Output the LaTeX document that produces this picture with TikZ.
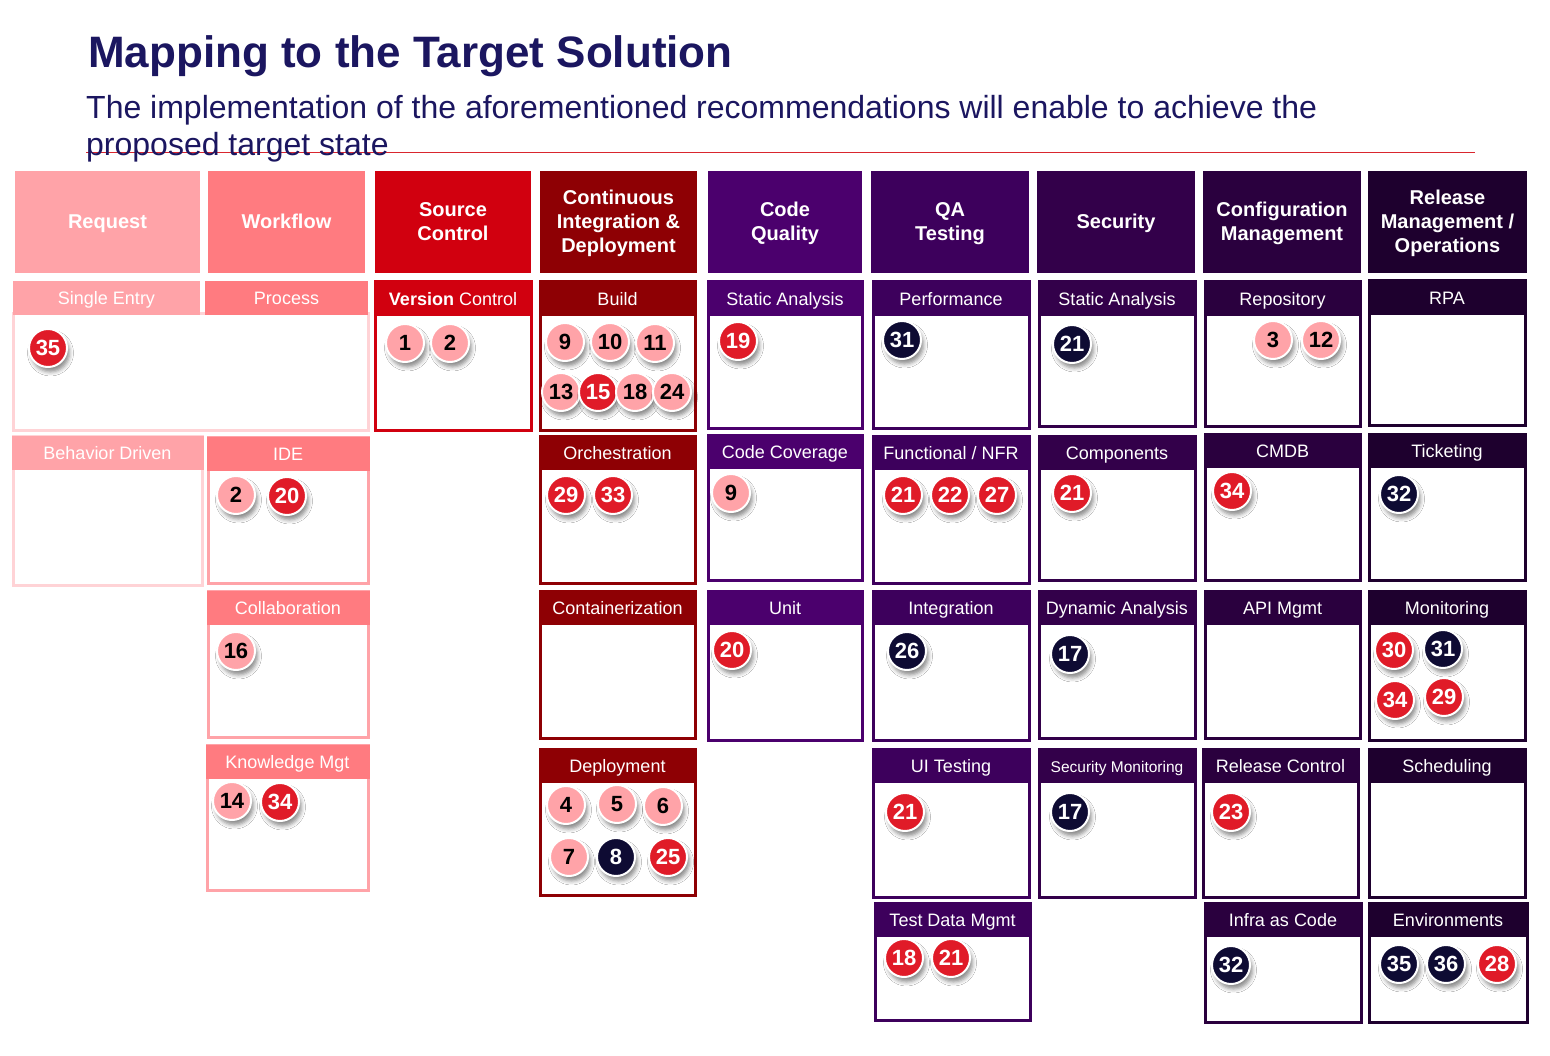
\documentclass[tikz,border=0pt]{standalone}
\usepackage{fontspec}
\usepackage{graphicx}
\setmainfont{Liberation Sans}
\usetikzlibrary{shadows,shadows.blur}

\definecolor{navy}{HTML}{1B1660}
\definecolor{rule}{HTML}{D9262E}
\definecolor{pk}{HTML}{FFA3A8}
\definecolor{rd}{HTML}{E01B28}
\definecolor{dk}{HTML}{0E0B33}
\definecolor{req}{HTML}{FFA3A8}
\definecolor{reqL}{HTML}{FFD3D6}
\definecolor{wf}{HTML}{FF7B80}
\definecolor{wfL}{HTML}{FFA3A8}
\definecolor{sc}{HTML}{D1000F}
\definecolor{ci}{HTML}{8E0004}
\definecolor{cq}{HTML}{4B006D}
\definecolor{qa}{HTML}{3D005C}
\definecolor{sec}{HTML}{33004A}
\definecolor{cfg}{HTML}{2A003E}
\definecolor{rel}{HTML}{1E002E}

\tikzset{
  head/.style={rectangle, inner sep=0pt, outer sep=0pt, text=white, align=center,
    font=\fontsize{20}{24}\selectfont\bfseries, minimum height=102pt},
  body/.style={rectangle, fill=white, line width=3pt, inner sep=0pt, outer sep=0pt},
  band/.style={rectangle, inner sep=0pt, outer sep=0pt, minimum height=34pt, text=white,
    text height=14pt, text depth=1pt, font=\fontsize{18}{20}\selectfont},
  badge/.style={circle, inner sep=0pt, minimum size=38pt, draw=white, line width=2pt,
    font=\fontsize{22}{22}\selectfont\bfseries,
    blur shadow={shadow xshift=2.5pt, shadow yshift=-5pt, shadow blur radius=4pt, shadow opacity=45}},
  bpk/.style={badge, fill=pk, text=black},
  brd/.style={badge, fill=rd, text=white},
  bdk/.style={badge, fill=dk, text=white},
}

% category column header: name, x1, x2, colour, text
\newcommand\colhead[5]{%
  \pgfmathsetmacro\hw{#3-#2}%
  \node[head, fill=#4, minimum width=\hw pt] (#1) at ({(#2+#3)/2},222) {};%
  \node[inner sep=0pt, text=white, align=center, font=\fontsize{20}{24}\selectfont\bfseries]
    (#1-x) at ({(#2+#3)/2},224) {\strut #5\strut};%
}
% sub-panel: name, x1, y1, x2, y2, band colour, border colour, label
\newcommand\panel[8]{%
  \pgfmathsetmacro\pw{#4-#2}%
  \pgfmathsetmacro\ph{#5-#3}%
  \pgfmathsetmacro\bw{#4-#2+3}%
  \node[body, draw=#7, minimum width=\pw pt, minimum height=\ph pt] (#1) at ({(#2+#4)/2},{(#3+#5)/2}) {};%
  \node[band, fill=#6, minimum width=\bw pt] (#1-t) at ({(#2+#4)/2},{#3+17}) {#8};%
}

\begin{document}
\begin{tikzpicture}[x=1pt,y=-1pt]
\useasboundingbox (0,0) rectangle (1550,1056);
\fill[white] (0,0) rectangle (1550,1056);

% title block
\coordinate (ruleL) at (86,153);
\coordinate (ruleR) at (1475,153);
\draw[rule, line width=1pt] (ruleL) -- (ruleR);
\node[anchor=base west, inner sep=0pt, text=navy, font=\fontsize{44}{50}\selectfont\bfseries] (title) at (88,68) {Mapping to the Target Solution};
\node[anchor=base west, inner sep=0pt, text=navy, font=\fontsize{32}{37}\selectfont] (sub1) at (86,119) {The implementation of the aforementioned recommendations will enable to achieve the};
\node[anchor=base west, inner sep=0pt, text=navy, font=\fontsize{32}{37}\selectfont] (sub2) at (86,156) {proposed target state};

% column headers
\colhead{h-req}{15}{200}{req}{Request}
\colhead{h-wf}{208}{365}{wf}{Workflow}
\colhead{h-sc}{375}{531}{sc}{Source\\Control}
\colhead{h-ci}{540}{697}{ci}{Continuous\\Integration \&\\Deployment}
\colhead{h-cq}{708}{862}{cq}{Code\\Quality}
\colhead{h-qa}{871}{1029}{qa}{QA\\Testing}
\colhead{h-sec}{1037}{1195}{sec}{Security}
\colhead{h-cfg}{1203}{1361}{cfg}{Configuration\\Management}
\colhead{h-rel}{1368}{1527}{rel}{Release\\Management /\\Operations}

% shared Single Entry / Process panel
\node[body, draw=reqL, minimum width=355pt, minimum height=116pt] (sep) at (190.5,372) {};
\node[band, fill=req, minimum width=187pt] (se-t) at (106.5,298) {Single Entry};
\node[band, fill=wf, minimum width=163pt] (pr-t) at (286.5,298) {Process};

% row 1
\panel{vc}{375}{282}{531}{430}{sc}{sc}{\textbf{Version} Control}
\panel{build}{540}{282}{695}{430}{ci}{ci}{Build}
\panel{sa1}{708}{282}{862}{428}{cq}{cq}{Static Analysis}
\panel{perf}{873}{282}{1029}{428}{qa}{qa}{Performance}
\panel{sa2}{1039}{282}{1195}{426}{sec}{sec}{Static Analysis}
\panel{repo}{1205}{282}{1360}{426}{cfg}{cfg}{Repository}
\panel{rpa}{1369}{281}{1525}{425}{rel}{rel}{RPA}

% row 2
\panel{bdd}{13}{436}{202}{585}{req}{reqL}{Behavior Driven}
\panel{ide}{208}{437}{368}{583}{wf}{wfL}{IDE}
\panel{orch}{540}{436}{695}{583}{ci}{ci}{Orchestration}
\panel{cc}{708}{435}{862}{580}{cq}{cq}{Code Coverage}
\panel{func}{873}{436}{1029}{583}{qa}{qa}{Functional / NFR}
\panel{comp}{1039}{436}{1195}{580}{sec}{sec}{Components}
\panel{cmdb}{1205}{434}{1360}{580}{cfg}{cfg}{CMDB}
\panel{tick}{1369}{434}{1525}{580}{rel}{rel}{Ticketing}

% row 3
\panel{collab}{208}{591}{368}{737}{wf}{wfL}{Collaboration}
\panel{cont}{540}{591}{695}{738}{ci}{ci}{Containerization}
\panel{unit}{708}{591}{862}{740}{cq}{cq}{Unit}
\panel{integ}{873}{591}{1029}{740}{qa}{qa}{Integration}
\panel{dyn}{1039}{591}{1195}{738}{sec}{sec}{Dynamic Analysis}
\panel{api}{1205}{591}{1360}{738}{cfg}{cfg}{API Mgmt}
\panel{mon}{1369}{591}{1525}{740}{rel}{rel}{Monitoring}

% row 4
\panel{know}{207}{745}{368}{890}{wf}{wfL}{Knowledge Mgt}
\panel{depl}{540}{749}{695}{895}{ci}{ci}{Deployment}
\panel{ui}{873}{749}{1029}{897}{qa}{qa}{UI Testing}
\panel{secmon}{1039}{749}{1195}{897}{sec}{sec}{\fontsize{15.5}{18}\selectfont Security Monitoring}
\panel{relctl}{1203}{749}{1358}{897}{cfg}{cfg}{Release Control}
\panel{sched}{1369}{749}{1525}{897}{rel}{rel}{Scheduling}

% row 5
\panel{tdm}{875}{903}{1030}{1020}{qa}{qa}{Test Data Mgmt}
\panel{iac}{1205}{903}{1361}{1022}{cfg}{cfg}{Infra as Code}
\panel{env}{1369}{903}{1527}{1022}{rel}{rel}{Environments}

% recommendation badges
\node[brd] (b-sep-35) at (48,348) {35};
\node[bpk] (b-vc-1) at (405,343) {1};
\node[bpk] (b-vc-2) at (450,343) {2};

\node[bpk] (b-build-9) at (565,342) {9};
\node[bpk] (b-build-10) at (610,342) {10};
\node[bpk] (b-build-11) at (655,343) {11};
\node[bpk] (b-build-13) at (561,392) {13};
\node[brd] (b-build-15) at (598,392) {15};
\node[bpk] (b-build-18) at (635,392) {18};
\node[bpk] (b-build-24) at (672,392) {24};

\node[brd] (b-sa1-19) at (738,341) {19};
\node[bdk] (b-perf-31) at (902,340) {31};
\node[bdk] (b-sa2-21) at (1072,344) {21};
\node[bpk] (b-repo-3) at (1273,340) {3};
\node[bpk] (b-repo-12) at (1321,340) {12};

\node[bpk] (b-ide-2) at (236,495) {2};
\node[brd] (b-ide-20) at (287,496) {20};
\node[brd] (b-orch-29) at (566,495) {29};
\node[brd] (b-orch-33) at (613,495) {33};
\node[bpk] (b-cc-9) at (731,493) {9};
\node[brd] (b-func-21) at (903,495) {21};
\node[brd] (b-func-22) at (950,495) {22};
\node[brd] (b-func-27) at (997,495) {27};
\node[brd] (b-comp-21) at (1072,493) {21};
\node[brd] (b-cmdb-34) at (1232,491) {34};
\node[bdk] (b-tick-32) at (1399,494) {32};

\node[bpk] (b-collab-16) at (236,651) {16};
\node[brd] (b-unit-20) at (732,650) {20};
\node[bdk] (b-integ-26) at (907,651) {26};
\node[bdk] (b-dyn-17) at (1070,654) {17};
\node[brd] (b-mon-30) at (1394,650) {30};
\node[bdk] (b-mon-31) at (1443,649) {31};
\node[brd] (b-mon-34) at (1395,700) {34};
\node[brd] (b-mon-29) at (1444,697) {29};

\node[bpk] (b-know-14) at (232,801) {14};
\node[brd] (b-know-34) at (280,802) {34};
\node[bpk] (b-depl-4) at (566,805) {4};
\node[bpk] (b-depl-5) at (617,804) {5};
\node[bpk] (b-depl-6) at (663,806) {6};
\node[bpk] (b-depl-7) at (569,857) {7};
\node[bdk] (b-depl-8) at (616,857) {8};
\node[brd] (b-depl-25) at (668,857) {25};
\node[brd] (b-ui-21) at (905,812) {21};
\node[bdk] (b-secmon-17) at (1070,812) {17};
\node[brd] (b-relctl-23) at (1231,812) {23};

\node[brd] (b-tdm-18) at (904,958) {18};
\node[brd] (b-tdm-21) at (951,958) {21};
\node[bdk] (b-iac-32) at (1231,965) {32};
\node[bdk] (b-env-35) at (1399,964) {35};
\node[bdk] (b-env-36) at (1446,964) {36};
\node[brd] (b-env-28) at (1497,964) {28};
\end{tikzpicture}
\end{document}
